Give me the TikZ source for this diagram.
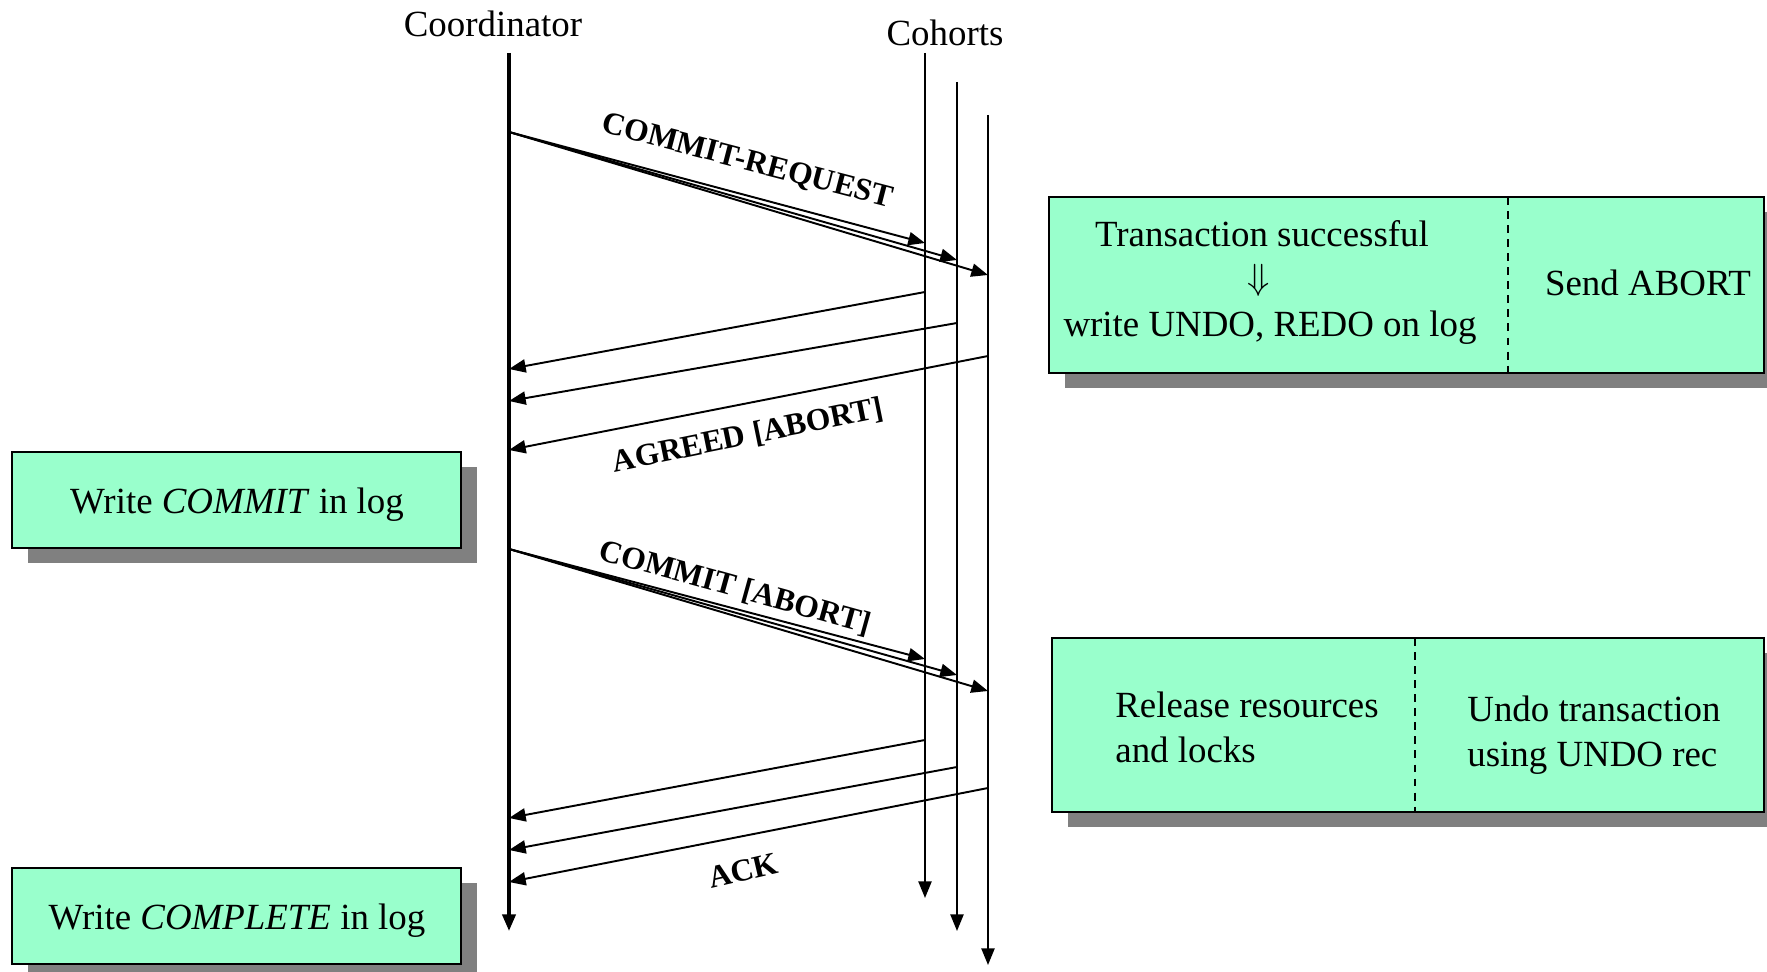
\documentclass[tikz,border=0pt]{standalone}
\usepackage{fontspec}
\setmainfont{Liberation Serif}
\usetikzlibrary{arrows.meta,shadows}
\definecolor{mint}{RGB}{153,255,204}
\definecolor{shade}{RGB}{128,128,128}

\begin{document}
\begin{tikzpicture}[x=0.02cm,y=-0.02cm,
  tip/.style={-{Triangle[length=9.5pt,width=7.5pt]}},
  msg/.style={tip,line width=1.1pt},
  lifeline/.style={tip,line width=1.1pt},
  mainline/.style={tip,line width=2pt},
  actbox/.style={draw,line width=1.2pt,fill=mint,rectangle,inner sep=0pt,
    general shadow={fill=shade,shadow xshift=0.32cm,shadow yshift=-0.3cm}},
  divider/.style={line width=0.8pt,dash pattern=on 4.5pt off 3.5pt},
  txt/.style={font=\fontsize{21}{25}\selectfont,inner sep=0pt},
  lbl/.style={font=\bfseries\fontsize{18}{21}\selectfont,inner sep=0pt}
]
\useasboundingbox (0,0) rectangle (1767,972);

% action boxes
\node[actbox,minimum width=14.3cm,minimum height=3.52cm] (b1) at (1406.5,285) {};
\node[actbox,minimum width=14.24cm,minimum height=3.48cm] (b2) at (1408,725) {};
\node[actbox,minimum width=8.98cm,minimum height=1.92cm] (b3) at (236.5,500) {};
\node[actbox,minimum width=8.98cm,minimum height=1.92cm] (b4) at (236.5,916) {};

\coordinate (d1t) at (1508,197);
\coordinate (d1b) at (1508,373);
\coordinate (d2t) at (1415,638);
\coordinate (d2b) at (1415,812);
\draw[divider] (d1t) -- (d1b);
\draw[divider] (d2t) -- (d2b);

% box texts
\node[txt,anchor=base] (t1a) at (1262,247) {Transaction successful};
\node[txt] (t1b) at (1259,280) {$\Downarrow$};
\node[txt,anchor=base] (t1c) at (1270,337) {write UNDO, REDO on log};
\node[txt,anchor=base] (t1d) at (1648,296) {Send ABORT};
\node[txt,anchor=base west] (t2a) at (1115,717) {Release resources};
\node[txt,anchor=base west] (t2b) at (1115,762) {and locks};
\node[txt,anchor=base west] (t2c) at (1467,721) {Undo transaction};
\node[txt,anchor=base west] (t2d) at (1467,766) {using UNDO rec};
\node[txt,anchor=base] (t3) at (237,514) {Write \textit{COMMIT} in log};
\node[txt,anchor=base] (t4) at (237,929) {Write \textit{COMPLETE} in log};

% participants
\node[txt,anchor=base] (coord) at (493,37) {Coordinator};
\node[txt,anchor=base] (coh) at (945,46) {Cohorts};

% lifelines
\coordinate (co-top) at (509,53);  \coordinate (co-bot) at (509,931);
\coordinate (c1-top) at (925,53);  \coordinate (c1-bot) at (925,898);
\coordinate (c2-top) at (957,82);  \coordinate (c2-bot) at (957,931);
\coordinate (c3-top) at (988,115); \coordinate (c3-bot) at (988,965);
\draw[mainline] (co-top) -- (co-bot);
\draw[lifeline] (c1-top) -- (c1-bot);
\draw[lifeline] (c2-top) -- (c2-bot);
\draw[lifeline] (c3-top) -- (c3-bot);

% phase 1: commit request
\coordinate (rq) at (509,132);
\coordinate (rq1) at (925,243);
\coordinate (rq2) at (957,260);
\coordinate (rq3) at (988,275);
\draw[msg] (rq) -- (rq1);
\draw[msg] (rq) -- (rq2);
\draw[msg] (rq) -- (rq3);
\node[lbl,rotate=-14.6] (lreq) at (747,162) {COMMIT-REQUEST};

% phase 1: votes
\coordinate (ag1) at (925,292); \coordinate (ag1e) at (509,369);
\coordinate (ag2) at (957,323); \coordinate (ag2e) at (509,401);
\coordinate (ag3) at (988,356); \coordinate (ag3e) at (509,450);
\draw[msg] (ag1) -- (ag1e);
\draw[msg] (ag2) -- (ag2e);
\draw[msg] (ag3) -- (ag3e);
\node[lbl,rotate=11.5] (lagr) at (748,436) {AGREED [ABORT]};

% phase 2: decision
\coordinate (cm) at (509,549);
\coordinate (cm1) at (925,659);
\coordinate (cm2) at (957,675);
\coordinate (cm3) at (988,691);
\draw[msg] (cm) -- (cm1);
\draw[msg] (cm) -- (cm2);
\draw[msg] (cm) -- (cm3);
\node[lbl,rotate=-15.5] (lcom) at (735,588) {COMMIT [ABORT]};

% phase 2: acknowledgements
\coordinate (ak1) at (925,740); \coordinate (ak1e) at (509,818);
\coordinate (ak2) at (957,767); \coordinate (ak2e) at (509,850);
\coordinate (ak3) at (988,788); \coordinate (ak3e) at (509,882);
\draw[msg] (ak1) -- (ak1e);
\draw[msg] (ak2) -- (ak2e);
\draw[msg] (ak3) -- (ak3e);
\node[lbl,rotate=13] (lack) at (743,871) {ACK};
\end{tikzpicture}
\end{document}
